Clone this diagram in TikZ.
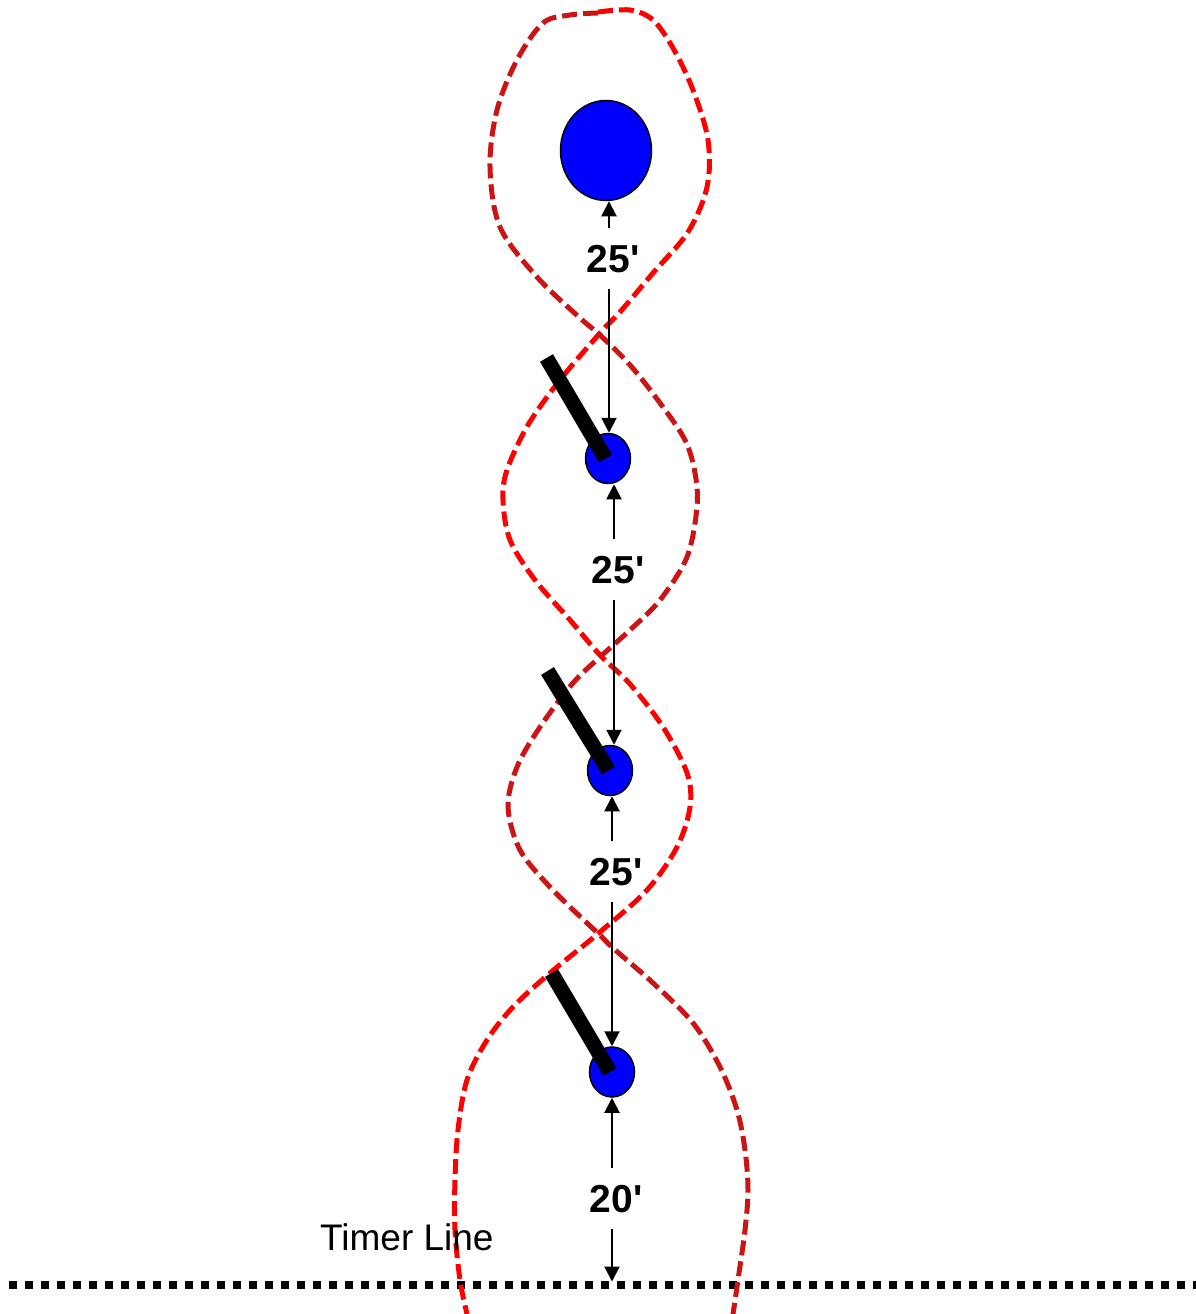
\documentclass[tikz,border=0pt]{standalone}
\usepackage{fontspec}
\newfontfamily\lblfont{Liberation Sans}
\usetikzlibrary{arrows.meta,shapes.geometric}
\definecolor{ballblue}{RGB}{0,0,255}
\definecolor{brightred}{RGB}{255,0,0}
\definecolor{darkred}{RGB}{204,20,20}
\begin{document}
\begin{tikzpicture}[x=1pt,y=-1pt,
  ball/.style={ellipse, draw=black, line width=1.5pt, fill=ballblue, inner sep=0pt},
  bigball/.style={ball, minimum width=91pt, minimum height=100pt},
  smallball/.style={ball, minimum width=45pt, minimum height=50pt},
  bar/.style={line width=15pt, draw=black},
  dim/.style={line width=2pt, draw=black, -{Triangle[length=15pt,width=15pt]}},
  lbl/.style={font=\lblfont\bfseries\fontsize{39pt}{39pt}\selectfont, text height=27pt, text depth=0pt, inner xsep=0pt, inner ysep=17pt},
  route/.style={line width=5pt, dash pattern=on 15pt off 6pt},
  timer/.style={line width=8pt, draw=black, dash pattern=on 8pt off 8pt}
]
\useasboundingbox (0,0) rectangle (1196,1314);

% timer line
\coordinate (tl) at (9,1284.5);
\coordinate (tr) at (1196,1284.5);
\draw[timer] (tl) -- (tr);

% route curves
\draw[route, brightred] plot[smooth, tension=0.55] coordinates {
  (598,12) (630,10) (653,20) (673,48) (693,90) (708,140) (707,187) (688,232)
  (653,273) (620,312) (600,333) (560,380) (528,425) (507,470) (503,500)
  (510,540) (535,580) (570,620) (600,655) (630,684) (663,727) (687,773)
  (690,807) (677,847) (647,890) (600,932) (550,973) (513,1007) (487,1040)
  (467,1080) (458,1130) (455,1180) (455,1230) (460,1280) (467,1314)};
\draw[route, darkred] plot[smooth, tension=0.55] coordinates {
  (598,13) (570,15) (543,23) (517,60) (497,110) (490,167) (500,227) (537,277)
  (580,318) (600,335) (630,365) (660,403) (685,440) (695,473) (697,507)
  (687,557) (660,600) (630,630) (600,657) (573,683) (540,727) (517,767)
  (508,807) (520,850) (550,887) (587,923) (600,935) (613,948) (653,983)
  (693,1023) (720,1067) (737,1110) (745,1150) (748,1190) (745,1230)
  (738,1280) (733,1314)};

% balls
\node[bigball] (c0) at (606,150.5) {};
\node[smallball] (c1) at (608,458.5) {};
\node[smallball] (c2) at (610,770.5) {};
\node[smallball] (c3) at (612,1072) {};

% bars
\coordinate (b1) at (546.5,358);
\coordinate (b2) at (547.5,671);
\coordinate (b3) at (551.5,973);
\draw[bar] (b1) -- ([xshift=-2.5pt]c1.center);
\draw[bar] (b2) -- ([xshift=-1.5pt]c2.center);
\draw[bar] (b3) -- ([xshift=-2pt]c3.center);

% labels
\node[lbl] (l1) at (609,258.5) {\hspace*{8pt}25'};
\node[lbl] (l2) at (614,569.5) {\hspace*{8pt}25'};
\node[lbl] (l3) at (612,871.5) {\hspace*{8pt}25'};
\node[lbl] (l4) at (612,1198.5) {\hspace*{8pt}20'};

% dimension arrows
\draw[dim] (l1.north) -- (l1.north |- c0.south);
\draw[dim] (l1.south) -- (l1.south |- c1.north);
\draw[dim] (l2.north) -- (l2.north |- c1.south);
\draw[dim] (l2.south) -- (l2.south |- c2.north);
\draw[dim] (l3.north) -- (l3.north |- c2.south);
\draw[dim] (l3.south) -- (l3.south |- c3.north);
\draw[dim] (l4.north) -- (l4.north |- c3.south);
\draw[dim, shorten >=3pt] (l4.south) -- (l4.south |- tl);

% timer line text
\node[anchor=base west, inner sep=0pt, font=\lblfont\fontsize{37pt}{37pt}\selectfont] (tltext) at (320,1250) {Timer Line};
\end{tikzpicture}
\end{document}
